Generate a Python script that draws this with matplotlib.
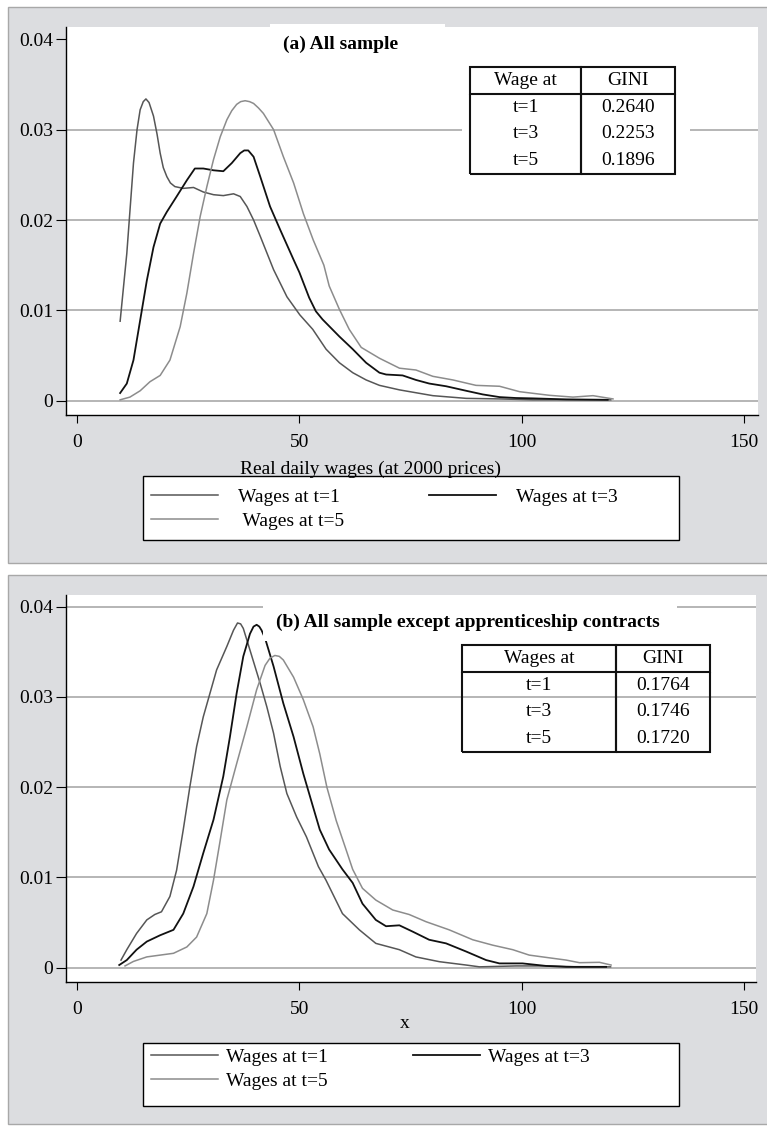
import matplotlib
matplotlib.use('Agg')
import matplotlib.pyplot as plt
from matplotlib.patches import Rectangle

plt.rcParams['font.family'] = ['Liberation Serif', 'DejaVu Serif']

W, H = 767, 1128

# (a) all sample
a_x1 = [9.7, 11.2, 12.7, 13.5, 14.2, 14.9, 15.5, 16.2, 17.2, 18.0, 18.7, 19.4, 20.2, 21.0, 22.0,
        23.9, 26.2, 28.4, 30.7, 32.9, 35.2, 36.7, 38.2, 39.7, 41.2, 44.2, 47.2, 50.1, 53, 56, 59,
        62, 65, 68, 72.5, 80, 87.5, 95, 102.5, 110, 117.5, 120]
a_y1 = [.0088, .0163, .0263, .0300, .0322, .0331, .0334, .0330, .0315, .0295, .0274, .0258, .0248,
        .0241, .0237, .0235, .0236, .0231, .0228, .0227, .0229, .0226, .0215, .0200, .0182, .0145,
        .0115, .0095, .0079, .0057, .0042, .0031, .0023, .0017, .0012, .00056, .00026, .0002,
        .0001, .0001, .0001, .0001]
a_x3 = [9.7, 11.2, 12.7, 14.2, 15.7, 17.2, 18.7, 20.2, 22.4, 24.7, 26.5, 28.4, 30.7, 32.9, 34.8,
        36.7, 37.6, 38.5, 39.7, 41.2, 43.4, 45.7, 48.7, 50, 52.2, 53.7, 55.2, 59, 62, 65, 68, 69.5,
        73.2, 76.2, 79.2, 83, 87.5, 91.2, 95, 98.7, 102.5, 110, 119.3]
a_y3 = [.00085, .0019, .0045, .0089, .0133, .017, .0196, .0209, .0226, .0244, .0257, .0257, .0255,
        .0254, .0263, .0274, .0277, .0277, .027, .0248, .0215, .0189, .0156, .0142, .0114, .0099,
        .0090, .0071, .0057, .0042, .0031, .0029, .0028, .0023, .0019, .0016, .0011, .0007,
        .0004, .0003, .00026, .00015, .0001]
a_x5 = [9.7, 11.9, 14.2, 16.4, 18.7, 20.9, 23.2, 24.7, 26.2, 27.7, 29.2, 30.7, 32.2, 33.7, 34.8,
        35.9, 36.8, 37.8, 38.8, 39.7, 40.8, 41.9, 44.2, 46.4, 48.7, 50.9, 53.1, 55.5, 56.7, 59,
        61.2, 63.9, 68, 72.5, 76.2, 80, 84.5, 89.7, 95, 99.5, 106.2, 111.5, 116, 120.5]
a_y5 = [.0001, .0004, .0011, .0021, .0028, .0045, .0082, .0119, .0163, .0204, .0237, .0267, .0292,
        .0311, .0321, .0328, .0331, .0332, .0331, .0329, .0324, .0318, .03, .027, .0241, .0207,
        .0178, .015, .0127, .0101, .0079, .0059, .0047, .0036, .0034, .0027, .0023, .0017, .0016,
        .001, .0006, .0004, .00056, .0002]

# (b) all sample except apprenticeship contracts
b_x1 = [9.9, 11.2, 13.4, 15.7, 17.5, 19.0, 20.9, 22.4, 23.9, 25.4, 26.9, 28.4, 29.9, 31.4, 33.7,
        35.2, 36.1, 36.8, 37.4, 38.9, 41.2, 42.7, 44.2, 45.7, 47.2, 49.4, 51.6, 54.3, 56, 59.7,
        63.5, 67.2, 72.5, 76.2, 81.5, 87.5, 90.5, 98.7, 106.2, 112.2, 120]
b_y1 = [.00085, .002, .0038, .0053, .0059, .0062, .0079, .0108, .0153, .0201, .0245, .0278, .0304,
        .033, .0356, .0374, .0382, .0381, .0376, .0352, .0315, .0289, .026, .0223, .0193, .0167,
        .0145, .0112, .0097, .006, .0042, .0027, .002, .0012, .00067, .0003, .0001, .0002, .0002,
        .0001, .0001]
b_x3 = [9.5, 11.2, 13.4, 15.7, 18.7, 21.7, 23.9, 26.2, 28.4, 30.7, 32.9, 34.4, 35.9, 37.4, 38.9,
        39.7, 40.4, 41.0, 41.5, 42.3, 44.2, 46.4, 48.7, 50.9, 53.1, 54.6, 56.7, 59.7, 62, 64.2,
        67.2, 69.5, 72.5, 75.5, 79.2, 83, 87.5, 92, 95, 100.2, 105.5, 110, 119]
b_y3 = [.0003, .00085, .002, .0029, .0036, .0042, .006, .009, .0127, .0164, .0212, .0256, .0304,
        .0345, .037, .0378, .038, .0378, .0374, .0365, .0334, .0293, .0256, .0215, .0178, .0153,
        .0131, .0109, .0094, .0071, .0053, .0046, .0047, .004, .0031, .0027, .0018, .00085,
        .00048, .00048, .0002, .0001, .0001]
b_x5 = [10.8, 12.7, 15.7, 18.7, 21.7, 24.7, 26.9, 29.2, 30.7, 32.2, 33.7, 35.9, 38.2, 40.4, 42.3,
        43.4, 44.5, 45.5, 46.4, 48.7, 50.9, 53.1, 54.6, 56.2, 58.3, 60.5, 62, 64.2, 67.2, 71, 74.7,
        78.5, 83.7, 89, 93.5, 98, 101.7, 106.2, 110, 113, 117.5, 120.1]
b_y5 = [.0002, .0007, .0012, .0014, .0016, .0023, .0034, .006, .0097, .0141, .0186, .0226, .0267,
        .0308, .0335, .0343, .0346, .0345, .0341, .0322, .0297, .0267, .0237, .020, .0163, .0131,
        .0109, .0088, .0075, .0064, .0059, .0051, .0042, .0031, .0025, .002, .0014, .0011, .00085,
        .00056, .0006, .0003]

a_gini_head = ['Wage at', 'GINI']
b_gini_head = ['Wages at', 'GINI']
periods = ['t=1', 't=3', 't=5']
a_gini = ['0.2640', '0.2253', '0.1896']
b_gini = ['0.1764', '0.1746', '0.1720']

yticks = [0, 0.01, 0.02, 0.03, 0.04]
ylabels = ['0', '0.01', '0.02', '0.03', '0.04']
xticks = [0, 50, 100, 150]

c1, c3, c5 = '#565656', '#111111', '#8c8c8c'
gridc = '#a9a9a9'

fig = plt.figure(figsize=(W / 100, H / 100), dpi=100)


def fx(px):
    return px / W


def fy(py):
    return 1 - py / H


def box(x0, y0, x1, y1, **kw):
    return Rectangle((fx(x0), fy(y1)), fx(x1) - fx(x0), fy(y0) - fy(y1),
                     transform=fig.transFigure, **kw)


# gray panel backgrounds
for top, bot in [(7, 563), (575, 1124)]:
    fig.patches.append(box(8, top, 800, bot, fc='#dcdde0', ec='#a8a8a8', lw=1, zorder=-2))


def axes_bbox(ax, x0, y0, x1, y1):
    inv = ax.transAxes.inverted()
    (ax0, ay0) = inv.transform(fig.transFigure.transform((fx(x0), fy(y1))))
    (ax1_, ay1) = inv.transform(fig.transFigure.transform((fx(x1), fy(y0))))
    return [ax0, ay0, ax1_ - ax0, ay1 - ay0]


def draw_panel(rect_px, xlim, ylim, curves, grid_levels, title, title_box, title_xy,
               head, gini, table_px, colw, table_white, xlabel, xlabel_xy, legend_px,
               labels, hpad, legbox):
    l, t, r, b = rect_px
    ax = fig.add_axes([fx(l), fy(b), fx(r) - fx(l), fy(t) - fy(b)])
    ax.set_facecolor('white')
    ax.set_xlim(*xlim)
    ax.set_ylim(*ylim)
    for lv in grid_levels:
        ax.axhline(lv, color=gridc, lw=1.2, zorder=1)
    lines = []
    for (xs, ys, col, lw) in curves:
        ln, = ax.plot(xs, ys, color=col, lw=lw, zorder=3, solid_joinstyle='round')
        lines.append(ln)
    for s in ['top', 'right']:
        ax.spines[s].set_visible(False)
    for s in ['left', 'bottom']:
        ax.spines[s].set_color('black')
        ax.spines[s].set_linewidth(1)
    ax.set_yticks(yticks)
    ax.set_yticklabels(ylabels)
    ax.set_xticks(xticks)
    ax.tick_params(axis='y', length=7, width=0.8, pad=2, labelsize=14)
    ax.tick_params(axis='x', length=6, width=0.8, pad=8, labelsize=14)

    # title with white box
    ax.add_patch(box(*title_box, fc='white', ec='none', zorder=4, clip_on=False))
    fig.text(fx(title_xy[0]), fy(title_xy[1]), title, ha='center', va='center',
             fontsize=14, fontweight='bold', zorder=5)

    # GINI table
    if table_white is not None:
        ax.add_patch(box(*table_white, fc='white', ec='none', zorder=4, clip_on=False))
    rows = [[p, g] for p, g in zip(periods, gini)]
    tb = ax.table(cellText=rows, colLabels=head, cellLoc='center',
                  colWidths=colw, bbox=axes_bbox(ax, *table_px))
    tb.auto_set_font_size(False)
    tb.set_fontsize(14)
    tb.set_zorder(5)
    for (rr, cc), cell in tb.get_celld().items():
        cell.set_linewidth(1.5)
        cell.set_edgecolor('#111111')
        cell.set_facecolor('white' if table_white is not None else 'none')
        if rr == 0:
            cell.visible_edges = 'closed'
        elif rr == len(rows):
            cell.visible_edges = 'BLR'
        else:
            cell.visible_edges = 'LR'

    ax.set_xlabel(xlabel, fontsize=14)
    ax.xaxis.set_label_coords(fx(xlabel_xy[0]), fy(xlabel_xy[1]), transform=fig.transFigure)

    # legend
    fig.patches.append(box(*legbox, fc='white', ec='black', lw=1, zorder=-1))
    order = [0, 2, 1]
    ax.legend([lines[i] for i in order], [labels[i] for i in order], loc='upper left',
              bbox_to_anchor=(fx(legend_px[0]), fy(legend_px[1])),
              bbox_transform=fig.transFigure, ncol=2, frameon=False, fontsize=14,
              handlelength=3.45, handletextpad=hpad, columnspacing=4.4,
              labelspacing=0.33, borderpad=0, borderaxespad=0)
    return ax


draw_panel((66, 27, 758, 415), (-2.47, 153.1), (-0.00158, 0.04136),
           [(a_x1, a_y1, c1, 1.1), (a_x3, a_y3, c3, 1.3), (a_x5, a_y5, c5, 1.1)],
           yticks[:-1], '(a) All sample', (270, 24, 445, 62), (341, 44),
           a_gini_head, a_gini, (470, 67, 675, 174), [111, 94], (462, 60, 690, 180),
           'Real daily wages (at 2000 prices)', (370, 461), (151, 488),
           ['Wages at t=1', 'Wages at t=3', ' Wages at t=5'], 1.0, (143, 476, 679, 540))

draw_panel((66, 595, 756, 982), (-2.47, 152.7), (-0.00158, 0.0413),
           [(b_x1, b_y1, c1, 1.1), (b_x3, b_y3, c3, 1.3), (b_x5, b_y5, c5, 1.1)],
           yticks, '(b) All sample except apprenticeship contracts', (263, 597, 677, 641),
           (468, 622), b_gini_head, b_gini, (462, 645, 710, 752), [154, 94], None,
           'x', (405, 1015), (151, 1048),
           ['Wages at t=1', 'Wages at t=3', 'Wages at t=5'], 0.4, (143, 1043, 679, 1106))

fig.savefig('out.png', dpi=100)
